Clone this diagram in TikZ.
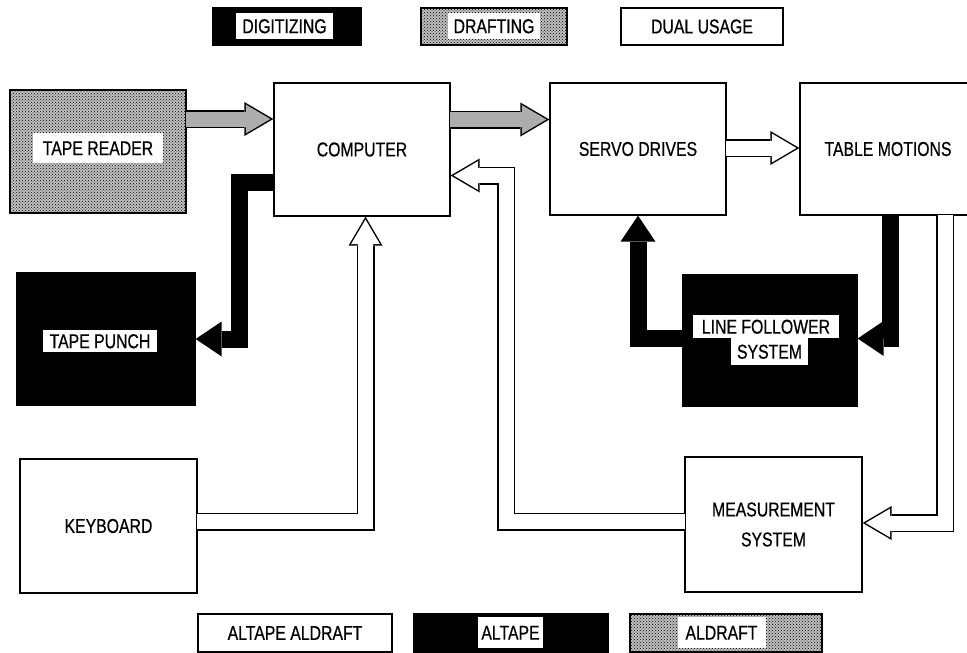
\documentclass[tikz,border=0pt]{standalone}
\usepackage{fontspec}
\newfontfamily\lettering{Liberation Sans}[FakeStretch=0.79,FakeBold=0.6]
\usetikzlibrary{arrows.meta,patterns}

\begin{document}
\begin{tikzpicture}[x=1pt,y=-1pt,
  font=\lettering\fontsize{20}{30}\selectfont,
  unit/.style 2 args={draw=black,line width=1.3pt,minimum width=#1,minimum height=#2,inner sep=0pt,align=center},
  digit/.style={fill=black},
  draft/.style={preaction={fill=black!25},pattern=crosshatch dots},
  tag/.style={fill=white,inner xsep=6pt,inner ysep=5pt,text height=14.3pt,text depth=0pt},
  fatflow/.style={
    preaction={draw=black,line width=18pt,shorten <=0pt,shorten >=0pt,-{Triangle[length=29pt,width=34pt,line width=0pt]}},
    preaction={draw=#1,line width=0.1pt,shorten <=0pt,shorten >=2.96pt,-{Triangle[length=24.5pt,width=28.8pt,line width=0pt]}},
    draw=#1,line width=15pt,shorten <=-1pt,shorten >=20pt},
  openflow/.style={fatflow=white},
  dotflow/.style={fatflow=black!32},
  blackflow/.style={draw=black,line width=17pt,-{Triangle[length=26pt,width=35pt,line width=0pt]}}]
\useasboundingbox (0,0) rectangle (967,653);

% legend
\node[unit={148pt}{37pt},digit] (digitizing) at (287,26.5) {};
\node[unit={146pt}{37pt},draft] (drafting) at (494,26.5) {};
\node[unit={162pt}{37pt}] (dual) at (702,26.5) {DUAL USAGE};
\node[unit={194pt}{38pt}] (both) at (295,633) {ALTAPE ALDRAFT};
\node[unit={194pt}{38pt},digit] (altape) at (511,633) {};
\node[unit={192pt}{38pt},draft] (aldraft) at (726,633) {};

% blocks
\node[unit={176pt}{123pt},draft] (reader) at (98,151.5) {};
\node[unit={176pt}{133pt}] (computer) at (362,149.5) {COMPUTER};
\node[unit={176pt}{132pt}] (servo) at (638,149) {SERVO DRIVES};
\node[unit={176pt}{132pt}] (table) at (888,149) {TABLE MOTIONS};
\node[unit={178pt}{132pt},digit] (punch) at (106,339) {};
\node[unit={174pt}{131pt},digit] (follower) at (770,340.5) {};
\node[unit={177pt}{134pt}] (keyboard) at (108.5,526) {KEYBOARD};
\node[unit={177pt}{135pt}] (measure) at (773.5,524.5) {MEASUREMENT\\SYSTEM};

% flows
\draw[dotflow] ([yshift=32.5pt]reader.east) -- ([yshift=32.5pt]reader.east -| computer.west);
\draw[dotflow] ([yshift=30pt]computer.east) -- ([yshift=30pt]computer.east -| servo.west);
\draw[openflow] ([yshift=1pt]servo.east) -- ([yshift=1pt]servo.east -| table.west);
\draw[blackflow] ([yshift=-33pt]computer.west) -| ([xshift=43.5pt]punch.east) -- (punch.east);
\draw[blackflow] ([yshift=2pt]follower.west) -| (servo.south);
\draw[blackflow] ([xshift=2pt]table.south) |- ([yshift=2pt]follower.east);
\draw[openflow] ([yshift=4.5pt]keyboard.east) -| ([xshift=3.5pt]computer.south);
\draw[openflow] ([yshift=3pt]measure.west) -| ([xshift=55.5pt,yshift=-26pt]computer.east) -- ([yshift=-26pt]computer.east);
\draw[openflow] ([xshift=57pt]table.south) |- ([yshift=1.5pt]measure.east);

% white tags
\node[tag,inner xsep=6pt,inner ysep=5.8pt] (digitag) at (284.5,26) {DIGITIZING};
\node[tag,inner xsep=6pt,inner ysep=5.8pt] (drafttag) at (494,26) {DRAFTING};
\node[tag,inner xsep=3.5pt,inner ysep=8.2pt] (altapetag) at (510.5,632.5) {ALTAPE};
\node[tag,inner xsep=8pt,inner ysep=8.2pt] (aldrafttag) at (721.5,632.5) {ALDRAFT};
\node[tag,inner xsep=10pt,inner ysep=7.8pt] (readertag) at (98,148) {TAPE READER};
\node[tag,inner xsep=7pt,inner ysep=4pt] (punchtag) at (100,341) {TAPE PUNCH};
\node[tag,inner xsep=9pt,inner ysep=4.4pt] (followtag) at (766,326.5) {LINE FOLLOWER};
\node[tag,inner xsep=6.5pt,inner ysep=6.4pt] (systag) at (769.5,351.5) {SYSTEM};
\end{tikzpicture}
\end{document}
